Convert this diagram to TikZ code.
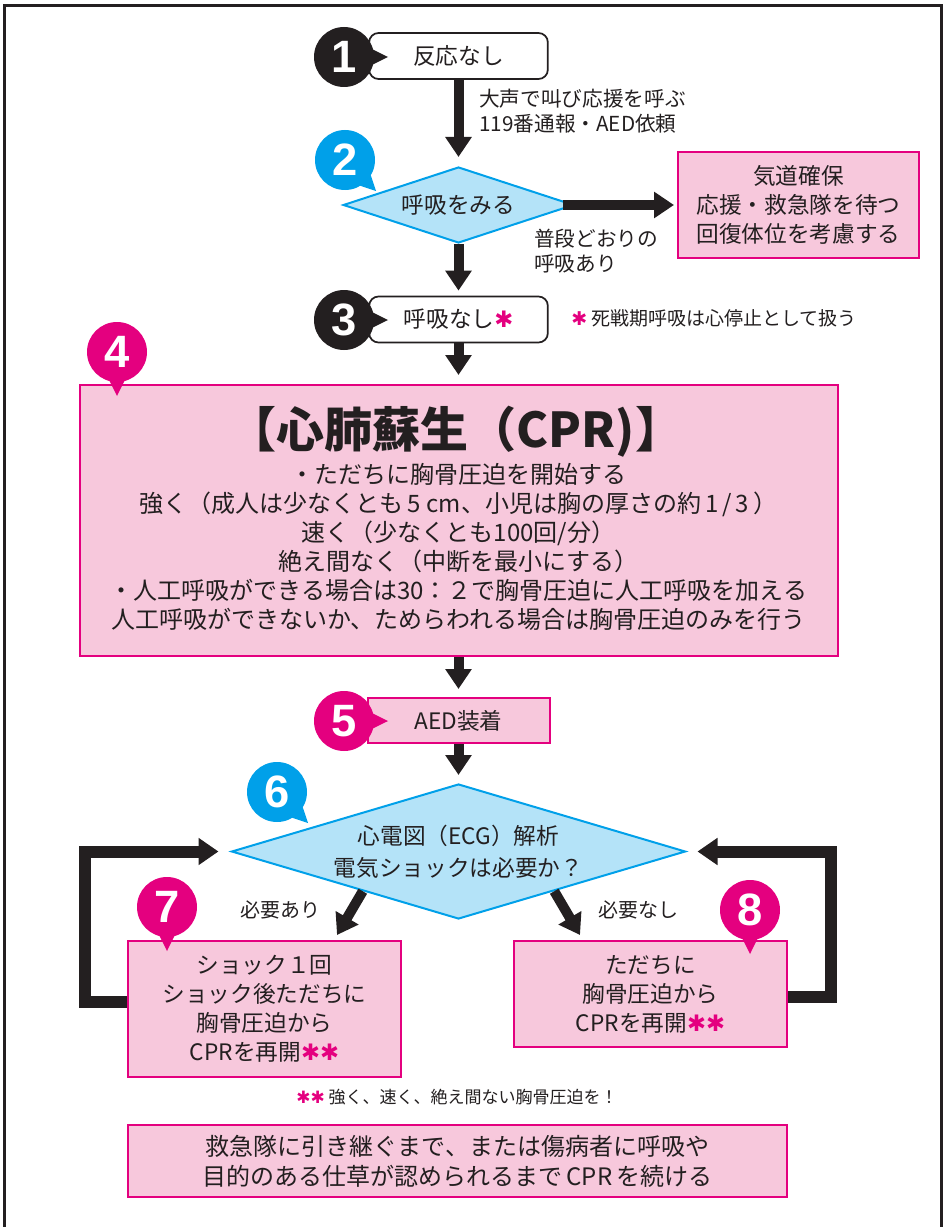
\documentclass[tikz,border=0pt]{standalone}
\usepackage{fontspec}
\setmainfont{Noto Sans CJK JP}
\newfontfamily\numfont{Liberation Sans}
\newfontfamily\symfont{DejaVu Sans}
\usetikzlibrary{arrows.meta,shapes.geometric,calc}
\definecolor{ink}{HTML}{231F20}
\definecolor{mag}{HTML}{E4007F}
\definecolor{pinkf}{HTML}{F7C8DC}
\definecolor{cyanl}{HTML}{00A0E9}
\definecolor{bluef}{HTML}{B4E3F8}
\newcommand\fs[2]{\fontsize{#1}{#2}\selectfont}
\newcommand\magast{{\symfont\color{mag}✱}}
\newcommand\badge[5]{%
  \fill[#3] ($(#2)+(#4-28:24)$) -- ($(#2)+(#4:44)$) -- ($(#2)+(#4+28:24)$) -- cycle;
  \node[circle,fill=#3,minimum size=45pt,inner sep=0pt,text=white,font=\numfont\bfseries\fs{34}{34}] (#1) at (#2) {#5};
}
\begin{document}
\begin{tikzpicture}[x=0.75pt,y=-0.75pt,
  txt/.style={font=\fs{17}{22}, align=center, text=ink, inner sep=0pt},
  rbox/.style={draw=ink, line width=1.3pt, fill=white, rounded corners=7pt, minimum width=134pt, minimum height=34.5pt, inner sep=0pt, font=\fs{17}{22}, text=ink},
  pbox/.style={draw=mag, line width=1.5pt, fill=pinkf, inner sep=0pt, align=center, text=ink},
  dia/.style={diamond, draw=cyanl, line width=1.5pt, fill=bluef, inner sep=0pt},
  arr/.style={draw=ink, line width=7.5pt, -{Triangle[length=15pt,width=19pt]}},
  looparr/.style={draw=ink, line width=9pt, line join=miter, -{Triangle[length=15pt,width=19.5pt]}},
  lbl/.style={font=\fs{15.5}{18.75}, align=left, text=ink, inner sep=0pt},
]
\useasboundingbox (0,0) rectangle (943,1227);
\draw[ink, line width=2.25pt] (4.5,1235) -- (4.5,5.5) -- (941.5,5.5) -- (941.5,1235);

% boxes and diamonds
\node[rbox] (b1) at (458.5,56) {反応なし};
\node[dia, minimum width=173pt, minimum height=57pt] (d2) at (458.5,205) {};
\node[txt] (t2) at (d2.center) {呼吸をみる};
\node[pbox, minimum width=180.75pt, minimum height=79.5pt, font=\fs{17}{22}] (bR) at (798.5,205) {気道確保\\応援・救急隊を待つ\\回復体位を考慮する};
\node[rbox] (b3) at (458.5,319.5) {呼吸なし\magast};
\node[pbox, minimum width=568.5pt, minimum height=203.25pt] (b4) at (458.5,520.5) {};
\node[txt, font=\bfseries\fs{36}{38}] (t4) at (456,432) {【心肺蘇生（CPR)】};
\node[txt, font=\fs{18}{21.75}] (t4b) at (458.5,547) {・ただちに胸骨圧迫を開始する\\強く（成人は少なくとも\,5 cm、小児は胸の厚さの約\,1\,/\,3\,）\\速く（少なくとも100回/分）\\絶え間なく（中断を最小にする）\\・人工呼吸ができる場合は30：２で胸骨圧迫に人工呼吸を加える\\人工呼吸ができないか、ためらわれる場合は胸骨圧迫のみを行う};
\node[pbox, minimum width=136.5pt, minimum height=33.75pt, font=\fs{17}{22}] (b5) at (458.5,720.5) {AED装着};
\node[dia, minimum width=340.5pt, minimum height=101.25pt] (d6) at (458.5,851.5) {};
\node[txt, font=\fs{17}{24}] (t6) at (d6.center) {心電図（ECG）解析\\電気ショックは必要か？};
\node[pbox, minimum width=204.75pt, minimum height=102pt, font=\fs{17}{21.75}] (b7) at (264.5,1009) {ショック１回\\ショック後ただちに\\胸骨圧迫から\\CPRを再開\magast\magast};
\node[pbox, minimum width=204.75pt, minimum height=79.5pt, font=\fs{17}{21.75}] (b8) at (650.5,994) {ただちに\\胸骨圧迫から\\CPRを再開\magast\magast};
\node[pbox, minimum width=494.25pt, minimum height=54pt, font=\fs{18}{22.5}] (bF) at (457.5,1161) {救急隊に引き継ぐまで、または傷病者に呼吸や\\目的のある仕草が認められるまで\,CPR\,を続ける};

% labels
\node[lbl, anchor=west] (l1) at (479,111.5) {大声で叫び応援を呼ぶ\\119番通報・AED依頼};
\node[lbl, anchor=west] (l2) at (534,251) {普段どおりの\\呼吸あり};
\node[lbl, anchor=west, font=\fs{14.25}{17}] (n3) at (571,318) {\magast\ 死戦期呼吸は心停止として扱う};
\node[lbl, font=\fs{15}{18}] (l7) at (280,910) {必要あり};
\node[lbl, font=\fs{15}{18}] (l8) at (638,910) {必要なし};
\node[lbl, font=\fs{12.75}{15}] (n7) at (457,1097) {\magast\magast\ 強く、速く、絶え間ない胸骨圧迫を！};

% arrows
\draw[arr, shorten >=6.75pt] (b1.south) -- (d2.north);
\draw[arr, shorten >=2.25pt] ([xshift=-9pt]d2.east) -- (bR.west);
\draw[arr, shorten >=3.75pt] (d2.south) -- (b3.north);
\draw[arr, shorten >=6.75pt] (b3.south) -- (b4.north);
\draw[arr, shorten >=6pt] (b4.south) -- (b5.north);
\draw[arr, shorten >=6pt] (b5.south) -- (d6.north);
\coordinate (e7) at (337,935);
\coordinate (e8) at (580,935);
\draw[arr] ($(d6.west)!0.58!(d6.south)$) -- (e7);
\draw[arr] ($(d6.east)!0.58!(d6.south)$) -- (e8);
\draw[looparr, shorten >=9pt] ([yshift=5pt]b7.west) -- ++(-42,0) |- (d6.west);
\draw[looparr, shorten >=8.25pt] ([yshift=-2.25pt]b8.east) -- ++(43,0) |- (d6.east);

% badges
\badge{c1}{344,57}{ink}{0}{1}
\badge{c2}{345,160}{cyanl}{45}{2}
\badge{c3}{344,320}{ink}{0}{3}
\badge{c4}{117,352}{mag}{90}{4}
\badge{c5}{344,721}{mag}{0}{5}
\badge{c6}{277,792}{cyanl}{45}{6}
\badge{c7}{167,907}{mag}{90}{7}
\badge{c8}{750,910}{mag}{90}{8}
\end{tikzpicture}
\end{document}
